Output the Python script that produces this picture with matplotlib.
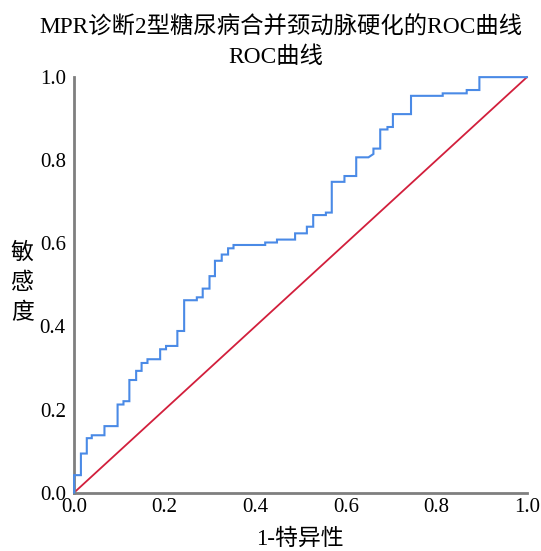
import matplotlib
matplotlib.use("Agg")
from matplotlib import pyplot as plt

plt.rcParams['font.family'] = ['Liberation Serif', 'Noto Sans CJK SC']

# ROC corners (1-specificity, sensitivity)
fpr = [0.0, 0.0, 0.015, 0.015, 0.028, 0.028, 0.039, 0.039, 0.067, 0.067,
       0.096, 0.096, 0.109, 0.109, 0.122, 0.122, 0.137, 0.137, 0.149, 0.149,
       0.162, 0.162, 0.190, 0.190, 0.203, 0.203, 0.228, 0.228, 0.243, 0.243,
       0.271, 0.271, 0.284, 0.284, 0.299, 0.299, 0.311, 0.311, 0.326, 0.326,
       0.340, 0.340, 0.352, 0.352, 0.422, 0.422, 0.448, 0.448, 0.488, 0.488,
       0.514, 0.514, 0.528, 0.528, 0.556, 0.556, 0.569, 0.569, 0.597, 0.597,
       0.623, 0.623, 0.650, 0.661, 0.661, 0.676, 0.676, 0.692, 0.692, 0.704,
       0.704, 0.744, 0.744, 0.814, 0.814, 0.867, 0.867, 0.895, 0.895, 1.0]
tpr = [0.0, 0.042, 0.042, 0.094, 0.094, 0.131, 0.131, 0.138, 0.138, 0.160,
       0.160, 0.212, 0.212, 0.220, 0.220, 0.271, 0.271, 0.293, 0.293, 0.312,
       0.312, 0.321, 0.321, 0.345, 0.345, 0.353, 0.353, 0.389, 0.389, 0.463,
       0.463, 0.470, 0.470, 0.491, 0.491, 0.521, 0.521, 0.558, 0.558, 0.573,
       0.573, 0.588, 0.588, 0.596, 0.596, 0.602, 0.602, 0.609, 0.609, 0.624,
       0.624, 0.640, 0.640, 0.668, 0.668, 0.674, 0.674, 0.748, 0.748, 0.762,
       0.762, 0.807, 0.807, 0.815, 0.828, 0.828, 0.874, 0.874, 0.880, 0.880,
       0.911, 0.911, 0.955, 0.955, 0.961, 0.961, 0.969, 0.969, 1.0, 1.0]
ref_line = [0.0, 1.0]
ticks = [0.0, 0.2, 0.4, 0.6, 0.8, 1.0]
title_lines = ["MPR诊断2型糖尿病合并颈动脉硬化的ROC曲线", "ROC曲线"]
xlabel = "1-特异性"
ylabel = "敏感度"

fig = plt.figure(figsize=(5.41, 5.51), dpi=100)
ax = fig.add_axes([0.137, 0.106, 0.837, 0.754])

ax.plot(fpr, tpr, color="#4a8ae6", lw=1.5, solid_joinstyle="miter", clip_on=False, zorder=3)
ax.plot(ref_line, ref_line, color="#d21f3c", lw=1.3, clip_on=False, zorder=2)

ax.set_xlim(0, 1)
ax.set_ylim(0, 1)
ax.set_xticks(ticks)
ax.set_yticks(ticks)
ax.set_xticklabels([f"{t:.1f}" for t in ticks])
ax.set_yticklabels([f"{t:.1f}" for t in ticks])
ax.tick_params(length=0, labelsize=15, pad=6)
ax.tick_params(axis="x", pad=4)

for side in ("top", "right"):
    ax.spines[side].set_visible(False)
for side in ("left", "bottom"):
    ax.spines[side].set_color("#7f7f7f")
    ax.spines[side].set_linewidth(2)

fig.text(0.520, 0.949, title_lines[0], ha="center", va="center", fontsize=16.8)
fig.text(0.509, 0.897, title_lines[1], ha="center", va="center", fontsize=16.8)
fig.text(0.555, 0.021, xlabel, ha="center", va="center", fontsize=16.5)
fig.text(0.041, 0.486, "\n".join(ylabel), ha="center", va="center", fontsize=16.5,
         linespacing=1.55)

fig.savefig("out.png", dpi=100)
